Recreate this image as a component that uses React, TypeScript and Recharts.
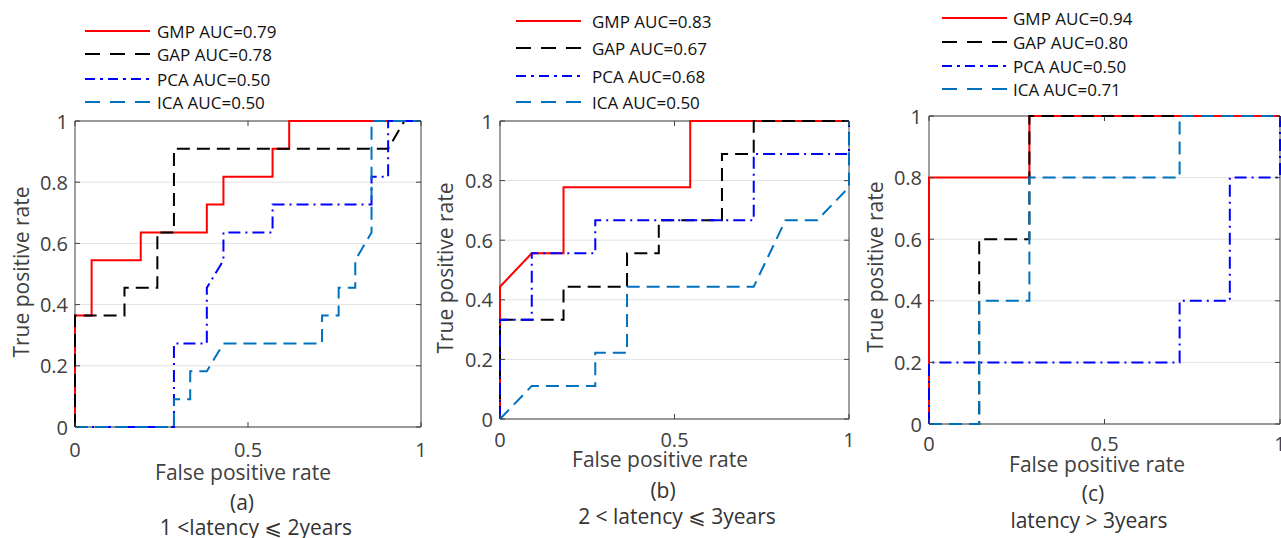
import React from 'react'
import { LineChart, Line, XAxis, YAxis, CartesianGrid, ReferenceArea } from 'recharts'

type Pt = { x: number; y: number }
const toPts = (a: number[][]): Pt[] => a.map(([x, y]) => ({ x, y }))

// series names + AUC per panel
const methods = ['GMP', 'GAP', 'PCA', 'ICA']
const aucA = [0.79, 0.78, 0.5, 0.5]
const aucB = [0.83, 0.67, 0.68, 0.5]
const aucC = [0.94, 0.8, 0.5, 0.71]

const xTicks = [0, 0.5, 1]
const yTicks = [0, 0.2, 0.4, 0.6, 0.8, 1]

// (a) 1 < latency <= 2 years
const gmpA = [[0, 0], [0, 0.364], [0.048, 0.364], [0.048, 0.545], [0.19, 0.545], [0.19, 0.636], [0.381, 0.636], [0.381, 0.727], [0.429, 0.727], [0.429, 0.818], [0.571, 0.818], [0.571, 0.909], [0.619, 0.909], [0.619, 1], [1, 1]]
const gapA = [[0, 0], [0, 0.364], [0.143, 0.364], [0.143, 0.455], [0.238, 0.455], [0.238, 0.636], [0.286, 0.636], [0.286, 0.909], [0.905, 0.909], [0.952, 1], [1, 1]]
const pcaA = [[0, 0], [0.286, 0], [0.286, 0.273], [0.381, 0.273], [0.381, 0.455], [0.429, 0.545], [0.429, 0.636], [0.571, 0.636], [0.571, 0.727], [0.857, 0.727], [0.857, 0.818], [0.905, 0.818], [0.905, 1], [1, 1]]
const icaA = [[0, 0], [0.286, 0], [0.286, 0.091], [0.333, 0.091], [0.333, 0.182], [0.381, 0.182], [0.429, 0.273], [0.714, 0.273], [0.714, 0.364], [0.762, 0.364], [0.762, 0.455], [0.81, 0.455], [0.81, 0.545], [0.857, 0.636], [0.857, 1], [1, 1]]

// (b) 2 < latency <= 3 years
const gmpB = [[0, 0], [0, 0.444], [0.091, 0.556], [0.182, 0.556], [0.182, 0.778], [0.545, 0.778], [0.545, 1], [1, 1]]
const gapB = [[0, 0], [0, 0.333], [0.182, 0.333], [0.182, 0.444], [0.364, 0.444], [0.364, 0.556], [0.455, 0.556], [0.455, 0.667], [0.636, 0.667], [0.636, 0.889], [0.727, 0.889], [0.727, 1], [1, 1]]
const pcaB = [[0, 0], [0, 0.333], [0.091, 0.333], [0.091, 0.556], [0.273, 0.556], [0.273, 0.667], [0.727, 0.667], [0.727, 0.889], [1, 0.889], [1, 1]]
const icaB = [[0, 0], [0.091, 0.111], [0.273, 0.111], [0.273, 0.222], [0.364, 0.222], [0.364, 0.444], [0.727, 0.444], [0.818, 0.667], [0.909, 0.667], [1, 0.778], [1, 1]]

// (c) latency > 3 years
const gmpC = [[0, 0], [0, 0.8], [0.286, 0.8], [0.286, 1], [1, 1]]
const gapC = [[0, 0], [0.143, 0], [0.143, 0.6], [0.286, 0.6], [0.286, 1], [1, 1]]
const pcaC = [[0, 0], [0, 0.2], [0.714, 0.2], [0.714, 0.4], [0.857, 0.4], [0.857, 0.8], [1, 0.8], [1, 1]]
const icaC = [[0, 0], [0.143, 0], [0.143, 0.4], [0.286, 0.4], [0.286, 0.8], [0.714, 0.8], [0.714, 1], [1, 1]]

const colors = ['#ff0000', '#000000', '#0000ff', '#0072bd']
const dashes = [undefined, '13 7', '12 5 2 5', '13 7']
const legendDashes = [undefined, '15 10', '10 5 3 5', '15 10']
const FONT = "'Open Sans', 'DejaVu Sans', sans-serif"
const H = 538

interface PanelProps {
  left: number
  width: number
  plot: { l: number; r: number; t: number; b: number }
  series: number[][][]
  auc: number[]
  legend: { lineX: number; textX: number; rows: number[] }
  yLabel: [number, number]
  xLabel: [number, number]
  letter: [number, number, string]
  caption: [number, number, string]
  tickGap: number
}

const Panel: React.FC<PanelProps> = p => {
  const plotH = p.plot.b - p.plot.t
  const plotW = p.plot.r - p.plot.l

  const XTick = (props: any) => {
    const { x, y, payload } = props
    return (
      <g>
        <line x1={x} y1={y} x2={x} y2={y - 5} stroke="#404040" />
        <line x1={x} y1={y - plotH} x2={x} y2={y - plotH + 5} stroke="#404040" />
        <text x={x} y={y + p.tickGap} textAnchor="middle" dominantBaseline="central" fontSize={20} fill="#404040" fontFamily={FONT}>
          {String(payload.value)}
        </text>
      </g>
    )
  }
  const YTick = (props: any) => {
    const { x, y, payload } = props
    return (
      <g>
        <line x1={x} y1={y} x2={x + 5} y2={y} stroke="#404040" />
        <line x1={x + plotW} y1={y} x2={x + plotW - 5} y2={y} stroke="#404040" />
        <text x={x - 7} y={y} textAnchor="end" dominantBaseline="central" fontSize={20} fill="#404040" fontFamily={FONT}>
          {String(payload.value)}
        </text>
      </g>
    )
  }

  return (
    <div style={{ position: 'absolute', left: p.left, top: 0, width: p.width, height: H }}>
      <LineChart
        width={p.width}
        height={H}
        margin={{ top: p.plot.t, right: p.width - p.plot.r, bottom: H - p.plot.b - 30, left: 0 }}
      >
        <CartesianGrid vertical={false} stroke="#e2e2e2" />
        <XAxis dataKey="x" type="number" domain={[0, 1]} ticks={xTicks} interval={0} height={30}
          axisLine={false} tickLine={false} tickSize={0} tickMargin={0} tick={XTick} />
        <YAxis type="number" domain={[0, 1]} ticks={yTicks} interval={0} width={p.plot.l}
          axisLine={false} tickLine={false} tickSize={0} tickMargin={0} tick={YTick} />
        <ReferenceArea x1={0} x2={1} y1={0} y2={1} fill="none" stroke="#404040" strokeWidth={1} ifOverflow="visible" />
        {p.series.map((s, i) => (
          <Line key={methods[i]} data={toPts(s)} dataKey="y" type="linear" stroke={colors[i]}
            strokeWidth={2} strokeDasharray={dashes[i]} dot={false} activeDot={false} isAnimationActive={false} />
        ))}
      </LineChart>
      <svg width={p.width} height={H} style={{ position: 'absolute', left: 0, top: 0, pointerEvents: 'none', fontFamily: FONT }}>
        {methods.map((m, i) => (
          <g key={m}>
            <line x1={p.legend.lineX} x2={p.legend.lineX + 65} y1={p.legend.rows[i]} y2={p.legend.rows[i]}
              stroke={colors[i]} strokeWidth={2} strokeDasharray={legendDashes[i]} />
            <text x={p.legend.textX} y={p.legend.rows[i]} dominantBaseline="central" fontSize={17} fill="#111">
              {`${m} AUC=${p.auc[i].toFixed(2)}`}
            </text>
          </g>
        ))}
        <text x={p.yLabel[0]} y={p.yLabel[1]} transform={`rotate(-90 ${p.yLabel[0]} ${p.yLabel[1]})`}
          textAnchor="middle" dominantBaseline="central" fontSize={21} fill="#404040">True positive rate</text>
        <text x={p.xLabel[0]} y={p.xLabel[1]} textAnchor="middle" dominantBaseline="central" fontSize={21} fill="#404040">False positive rate</text>
        <text x={p.letter[0]} y={p.letter[1]} textAnchor="middle" dominantBaseline="central" fontSize={21} fill="#333">{p.letter[2]}</text>
        <text x={p.caption[0]} y={p.caption[1]} textAnchor="middle" dominantBaseline="central" fontSize={21} fill="#333">{p.caption[2]}</text>
      </svg>
    </div>
  )
}

export default function App() {
  return (
    <div style={{ position: 'absolute', left: 0, top: 0, width: 1281, height: H, background: '#fff', overflow: 'hidden' }}>
      <Panel left={0} width={430} plot={{ l: 75, r: 421, t: 121, b: 427 }}
        series={[gmpA, gapA, pcaA, icaA]} auc={aucA}
        legend={{ lineX: 85, textX: 157, rows: [31, 54, 79, 102] }}
        yLabel={[21, 272]} xLabel={[243, 472]} letter={[242, 502, '(a)']} caption={[256, 527, '1 <latency ⩽ 2years']} tickGap={22} />
      <Panel left={430} width={430} plot={{ l: 70, r: 419, t: 121, b: 419 }}
        series={[gmpB, gapB, pcaB, icaB]} auc={aucB}
        legend={{ lineX: 86, textX: 162, rows: [21, 48, 76, 102] }}
        yLabel={[15, 268]} xLabel={[230, 459]} letter={[233, 490, '(b)']} caption={[247, 516, '2 < latency ⩽ 3years']} tickGap={20} />
      <Panel left={860} width={421} plot={{ l: 69, r: 420, t: 116, b: 424 }}
        series={[gmpC, gapC, pcaC, icaC]} auc={aucC}
        legend={{ lineX: 82, textX: 153, rows: [18, 42, 66, 89] }}
        yLabel={[15, 267]} xLabel={[237, 464]} letter={[233, 493, '(c)']} caption={[229, 520, 'latency > 3years']} tickGap={19} />
    </div>
  )
}
